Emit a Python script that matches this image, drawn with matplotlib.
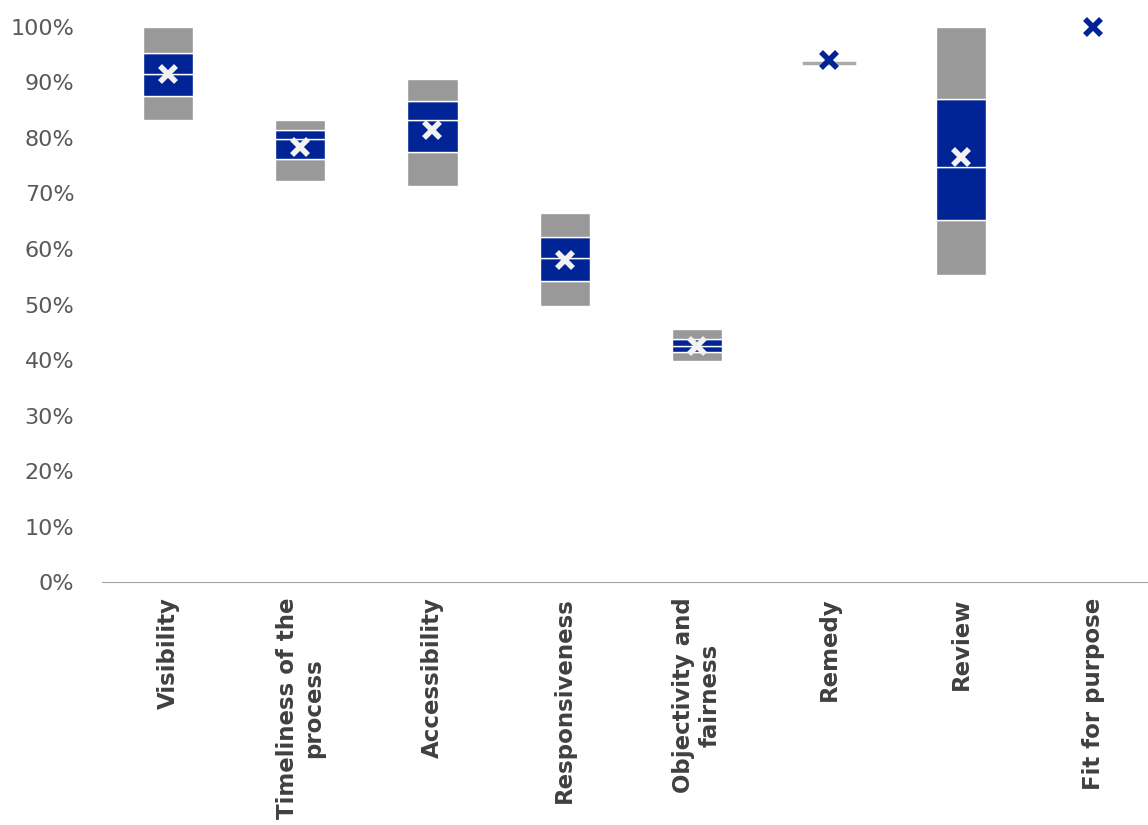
import numpy as np
import matplotlib.pyplot as plt
from matplotlib.ticker import PercentFormatter

# box statistics per category (fractions)
categories = ["Visibility", "Timeliness of the\nprocess", "Accessibility", "Responsiveness",
              "Objectivity and\nfairness", "Remedy", "Review", "Fit for purpose"]
mins = [0.833, 0.723, 0.713, 0.497, 0.399, 0.935, 0.553, 1.0]
q1 = [0.875, 0.762, 0.774, 0.542, 0.414, 0.935, 0.652, 1.0]
medians = [0.915, 0.799, 0.832, 0.583, 0.426, 0.935, 0.748, 1.0]
q3 = [0.954, 0.814, 0.867, 0.622, 0.437, 0.935, 0.871, 1.0]
maxs = [1.0, 0.833, 0.906, 0.665, 0.455, 0.935, 1.0, 1.0]
means = [0.916, 0.783, 0.814, 0.581, 0.426, 0.941, 0.766, 1.0]

blue = "#002395"
grey = "#999999"

fig = plt.figure(figsize=(11.48, 8.25), dpi=100)
ax = fig.add_axes([0.0889, 0.2945, 0.921, 0.6728])

x = np.arange(len(categories))
mins, q1, medians, q3, maxs = map(np.array, (mins, q1, medians, q3, maxs))
w = 0.38

ax.bar(x, q1 - mins, w, bottom=mins, color=grey, edgecolor="white", linewidth=1)
ax.bar(x, medians - q1, w, bottom=q1, color=blue, edgecolor="white", linewidth=1)
ax.bar(x, q3 - medians, w, bottom=medians, color=blue, edgecolor="white", linewidth=1)
ax.bar(x, maxs - q3, w, bottom=q3, color=grey, edgecolor="white", linewidth=1)

# flat boxes (all quartiles equal) drawn as a grey line
for i in range(len(categories)):
    if maxs[i] - mins[i] < 1e-6 and maxs[i] < 1.0:
        ax.plot([x[i] - w / 2, x[i] + w / 2], [medians[i]] * 2, color="#aaaaaa", lw=2.5)

# mean markers: white inside boxes, blue where no box
for i in range(len(categories)):
    c = blue if maxs[i] - mins[i] < 1e-6 else "#f2f2f2"
    ax.plot(x[i], means[i], marker="x", color=c, markersize=11, mew=4,
            linestyle="none", clip_on=False)

ax.set_xlim(-0.5, len(categories) - 0.5)
ax.set_ylim(0, 1.0)
ax.set_yticks(np.arange(0, 1.01, 0.1))
ax.yaxis.set_major_formatter(PercentFormatter(1.0, decimals=0))
ax.set_xticks(x)
ax.set_xticklabels(categories, rotation=90, fontsize=16.5, fontweight="bold",
                   color="#404040", multialignment="center")
ax.tick_params(axis="y", length=0, labelsize=16, labelcolor="#595959", pad=20)
ax.tick_params(axis="x", length=0, pad=11)
for s in ["top", "right", "left"]:
    ax.spines[s].set_visible(False)
ax.spines["bottom"].set_color("#a6a6a6")

fig.savefig("out.png", dpi=100)
